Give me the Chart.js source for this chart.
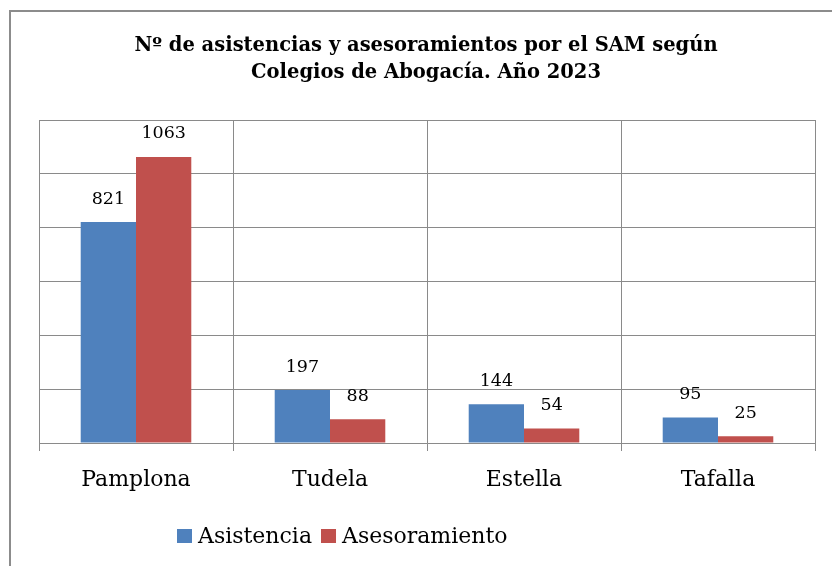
<!DOCTYPE html>
<html>
<head>
<meta charset="utf-8">
<script src="https://cdn.jsdelivr.net/npm/chart.js@4"></script>
<style>
  body { margin: 0; background: #fff; }
  #wrap { position: relative; width: 832px; height: 566px; overflow: hidden; }
  #frame { position: absolute; left: 9px; top: 10px; width: 900px; height: 700px; border: 2px solid #8c8c8c; }
  canvas { position: absolute; left: 0; top: 0; }
</style>
</head>
<body>
<div id="wrap">
  <div id="frame"></div>
  <canvas id="chart" width="832" height="566"></canvas>
</div>
<script>
const colegios = ['Pamplona', 'Tudela', 'Estella', 'Tafalla'];
const asistencia = [821, 197, 144, 95];
const asesoramiento = [1063, 88, 54, 25];
const titulo = ['Nº de asistencias y asesoramientos por el SAM según', 'Colegios de Abogacía. Año 2023'];

const FONT = "'DejaVu Serif', serif";
const GRID = '#8a8a8a';

// title + value labels + legend, drawn by hand
const decor = {
  id: 'decor',
  afterDatasetsDraw(chart) {
    const ctx = chart.ctx;
    ctx.save();
    ctx.fillStyle = '#000';
    ctx.textAlign = 'center';
    ctx.textBaseline = 'middle';

    ctx.font = 'bold 19.5px ' + FONT;
    ctx.fillText(titulo[0], 426, 46);
    ctx.fillText(titulo[1], 426, 73);

    ctx.font = '17.5px ' + FONT;
    chart.data.datasets.forEach((ds, i) => {
      chart.getDatasetMeta(i).data.forEach((bar, j) => {
        ctx.fillText(String(ds.data[j]), bar.x, bar.y - 23);
      });
    });

    ctx.font = '22px ' + FONT;
    ctx.textAlign = 'left';
    let x = 177;
    chart.data.datasets.forEach(ds => {
      ctx.fillStyle = ds.backgroundColor;
      ctx.fillRect(x, 529, 15, 14);
      ctx.fillStyle = '#000';
      ctx.fillText(ds.label, x + 21, 537);
      x += 21 + ctx.measureText(ds.label).width + 9;
    });
    ctx.restore();
  }
};

new Chart(document.getElementById('chart'), {
  type: 'bar',
  data: {
    labels: colegios,
    datasets: [
      { label: 'Asistencia', data: asistencia, backgroundColor: '#4f81bd' },
      { label: 'Asesoramiento', data: asesoramiento, backgroundColor: '#c0504d' }
    ]
  },
  options: {
    responsive: false,
    animation: false,
    layout: { padding: { left: 0, top: 120, right: 17, bottom: 0 } },
    datasets: { bar: { barPercentage: 1, categoryPercentage: 0.57 } },
    plugins: { legend: { display: false }, title: { display: false }, tooltip: { enabled: false } },
    scales: {
      x: {
        afterFit(scale) { scale.height = 123; },
        grid: { color: GRID, lineWidth: 1, tickLength: 8 },
        border: { color: GRID },
        ticks: { color: '#000', padding: 16, font: { family: FONT, size: 22 } }
      },
      y: {
        min: 0, max: 1200,
        afterFit(scale) { scale.width = 39; },
        ticks: { display: false, stepSize: 200 },
        grid: { color: GRID, lineWidth: 1, drawTicks: false },
        border: { color: GRID }
      }
    }
  },
  plugins: [decor]
});
</script>
</body>
</html>
